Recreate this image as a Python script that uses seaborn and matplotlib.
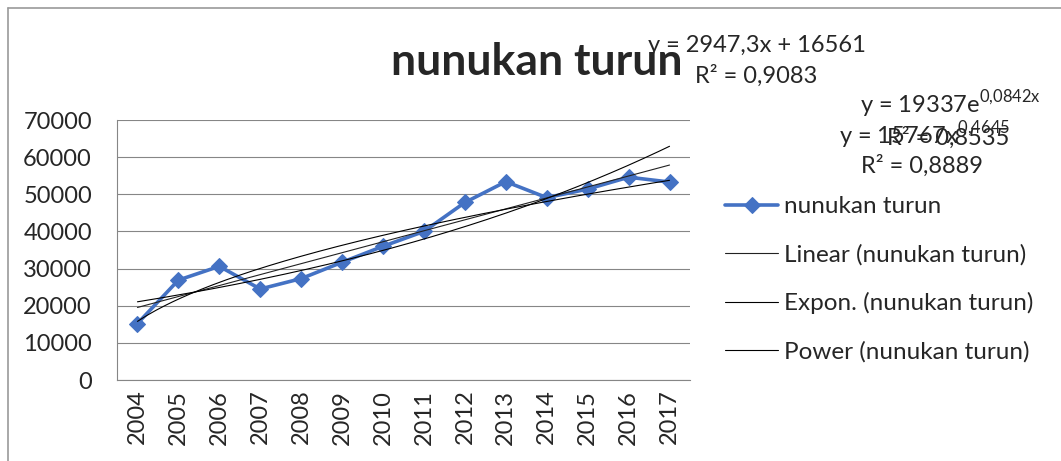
import numpy as np
import pandas as pd
import matplotlib
matplotlib.use("Agg")
import matplotlib.pyplot as plt
import seaborn as sns

years = ['2004', '2005', '2006', '2007', '2008', '2009', '2010',
         '2011', '2012', '2013', '2014', '2015', '2016', '2017']
turun = [15200, 26900, 30600, 24500, 27300, 31700, 36000,
         40000, 47800, 53400, 49100, 51400, 54600, 53300]
series_name = 'nunukan turun'
y_ticks = [0, 10000, 20000, 30000, 40000, 50000, 60000, 70000]

sns.set_theme(style='white')
plt.rcParams['font.family'] = ['Lato', 'DejaVu Sans']
plt.rcParams['mathtext.fontset'] = 'custom'
plt.rcParams['mathtext.rm'] = 'Lato'

table = pd.DataFrame({'x': np.arange(1, len(years) + 1), 'value': turun})

fig = plt.figure(figsize=(10.61, 4.61), dpi=100)
ax = fig.add_axes([117 / 1061, 1 - 380 / 461, (690 - 117) / 1061, 260 / 461])

gray = '#868686'
sns.lineplot(data=table, x='x', y='value', ax=ax, color='#4472C4', lw=2.6,
             marker='D', markersize=8.5, markeredgecolor='#4472C4', label=series_name,
             zorder=3)

# trendlines fitted the way excel does it
xs = np.linspace(1, len(years), 200)
x = table['x'].values
y = table['value'].values
lin = np.polyfit(x, y, 1)
expo = np.polyfit(x, np.log(y), 1)
powr = np.polyfit(np.log(x), np.log(y), 1)
ax.plot(xs, np.polyval(lin, xs), color='#222222', lw=0.8, label='Linear (nunukan turun)', zorder=4)
ax.plot(xs, np.exp(expo[1]) * np.exp(expo[0] * xs), color='black', lw=0.8,
        label='Expon. (nunukan turun)', zorder=4)
ax.plot(xs, np.exp(powr[1]) * xs ** powr[0], color='black', lw=0.8,
        label='Power (nunukan turun)', zorder=4)

tick_size = 17
ax.set_xlim(0.5, len(years) + 0.5)
ax.set_ylim(0, 70000)
ax.set_yticks(y_ticks)
ax.set_yticklabels([str(t) for t in y_ticks], fontsize=tick_size)
ax.set_xticks(np.arange(0.5, len(years) + 1))
ax.set_xticklabels([])
ax.set_xticks(np.arange(1, len(years) + 1), minor=True)
ax.set_xticklabels(years, minor=True, rotation=90, fontsize=tick_size)
ax.tick_params(axis='x', which='major', length=6, width=0.8, color=gray, direction='out')
ax.tick_params(axis='x', which='minor', length=0, pad=7)
ax.tick_params(axis='y', length=6, width=0.8, color=gray, direction='out', pad=12)
ax.yaxis.grid(True, color=gray, lw=0.8)
ax.set_axisbelow(True)
for s in ['top', 'right']:
    ax.spines[s].set_visible(False)
for s in ['left', 'bottom']:
    ax.spines[s].set_color(gray)
    ax.spines[s].set_linewidth(0.8)
ax.set_xlabel('')
ax.set_ylabel('')

handles, labels = ax.get_legend_handles_labels()
ax.get_legend().remove()
fig.legend(handles, labels, loc='upper left', bbox_to_anchor=(725 / 1061, 1 - 196 / 461),
           frameon=False, fontsize=17.5, handlelength=2.2, handletextpad=0.22,
           labelspacing=1.1, borderpad=0, borderaxespad=0)

fig.text(537 / 1061, 1 - 75 / 461, 'nunukan turun', fontsize=32, fontweight='bold',
         ha='center', va='baseline')

eq_size = 17
fig.text(648 / 1061, 1 - 52 / 461, 'y = 2947,3x + 16561', fontsize=eq_size, va='baseline')
fig.text(695 / 1061, 1 - 83 / 461, 'R² = 0,9083', fontsize=eq_size, va='baseline')
fig.text(860 / 1061, 1 - 113 / 461, r'y = 19337e$^{\mathrm{0{,}0842x}}$', fontsize=eq_size, va='baseline')
fig.text(839 / 1061, 1 - 144 / 461, r'y = 15767x$^{\mathrm{0{,}4645}}$', fontsize=eq_size, va='baseline')
fig.text(887 / 1061, 1 - 145 / 461, 'R² = 0,8535', fontsize=eq_size, va='baseline')
fig.text(861 / 1061, 1 - 173 / 461, 'R² = 0,8889', fontsize=eq_size, va='baseline')

# chart area border (only top and left show)
fig.add_artist(plt.Line2D([8 / 1061, 1], [1 - 8 / 461, 1 - 8 / 461], color='#9a9a9a', lw=1.2))
fig.add_artist(plt.Line2D([8 / 1061, 8 / 1061], [0, 1 - 8 / 461], color='#9a9a9a', lw=1.2))

fig.savefig('out.png', dpi=100)
